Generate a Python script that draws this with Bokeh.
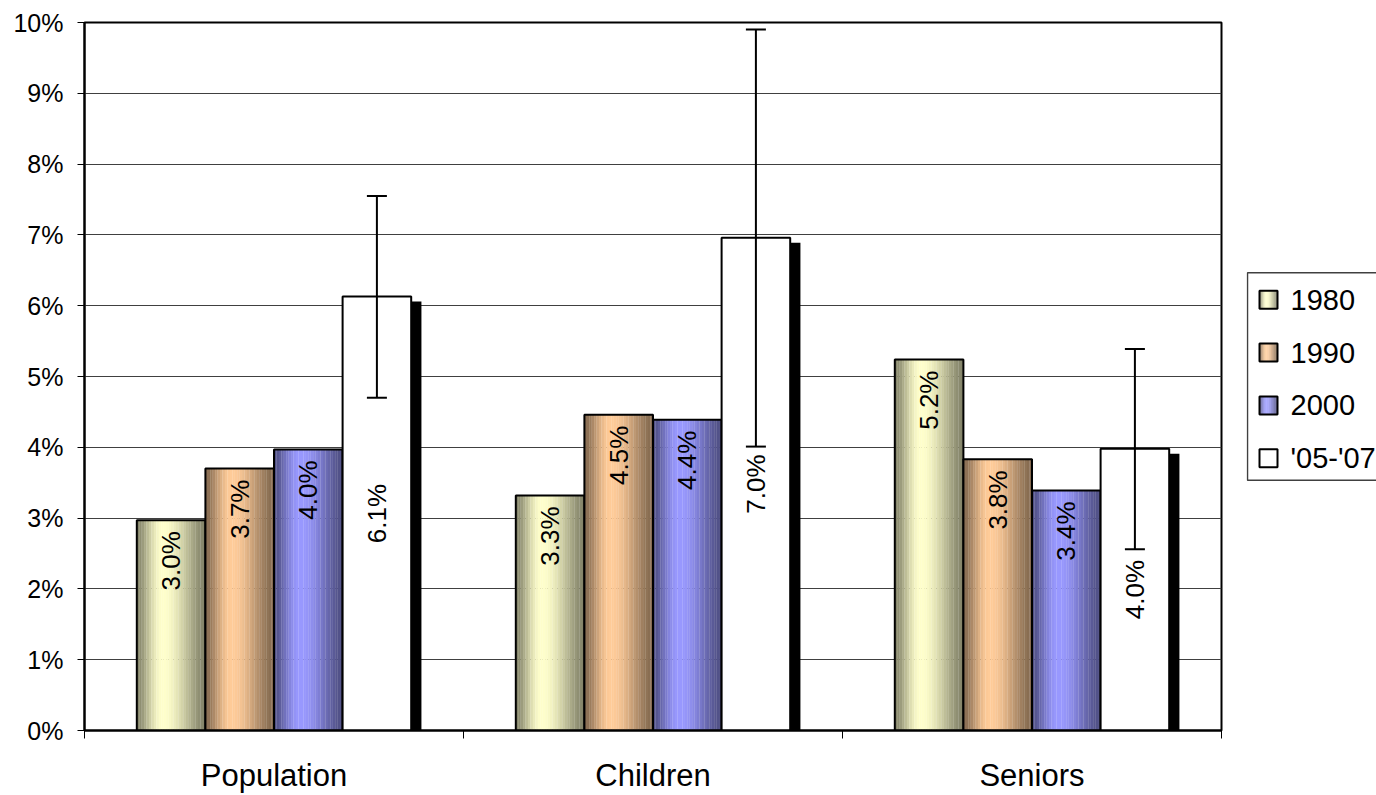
import math
from bokeh.plotting import figure
from bokeh.layouts import row
from bokeh.models import (ColumnDataSource, FixedTicker, NumeralTickFormatter, Whisker,
                          TeeHead, Range1d)
from bokeh.core.properties import value
from bokeh.embed import file_html
from bokeh.resources import INLINE

# ---------------- data ----------------
categories = ["Population", "Children", "Seniors"]
series = ["1980", "1990", "2000", "'05-'07"]
v1980 = [2.97, 3.32, 5.24]
v1990 = [3.70, 4.46, 3.83]
v2000 = [3.97, 4.39, 3.39]
v0507 = [6.13, 6.96, 3.98]
err_low = [4.70, 4.01, 2.56]
err_high = [7.55, 9.90, 5.39]
y_ticks = [i / 100 for i in range(11)]

# ---------------- style ----------------
FONT = "Liberation Sans"
base_colors = ["#FFFFCC", "#FFCC99", "#9999FF"]
bw = 0.181
offsets = [-1.5 * bw, -0.5 * bw, 0.5 * bw, 1.5 * bw]
NSTRIP = 28


def shade(hexc, f):
    r, g, b = int(hexc[1:3], 16), int(hexc[3:5], 16), int(hexc[5:7], 16)
    return "#%02x%02x%02x" % (int(r * f), int(g * f), int(b * f))


def profile(t, peak=0.38, lo=0.52):
    if t <= peak:
        s = math.sin(math.pi / 2 * t / peak)
    else:
        s = math.cos(math.pi / 2 * (t - peak) / (1 - peak))
    return lo + (1 - lo) * s ** 1.6


p = figure(width=1246, height=795, x_range=Range1d(0, 3), y_range=Range1d(0, 0.10),
           output_backend="svg", toolbar_location=None,
           min_border_left=84, min_border_top=22, min_border_right=25, min_border_bottom=63)
p.background_fill_color = "white"
p.border_fill_color = "white"
p.outline_line_color = "black"
p.outline_line_width = 2

# axes
p.yaxis.ticker = FixedTicker(ticks=y_ticks)
p.yaxis.formatter = NumeralTickFormatter(format="0%")
p.yaxis.major_label_text_font = FONT
p.yaxis.major_label_text_font_size = "25px"
p.yaxis.major_label_text_color = "black"
p.yaxis.major_tick_out = 7
p.yaxis.major_tick_in = 0
p.yaxis.minor_tick_line_color = None
p.yaxis.axis_line_width = 2
p.yaxis.major_label_standoff = 14

p.xaxis.ticker = FixedTicker(ticks=[i + 0.5 for i in range(len(categories))],
                             minor_ticks=[float(i) for i in range(len(categories) + 1)])
p.xaxis.major_label_overrides = {i + 0.5: c for i, c in enumerate(categories)}
p.xaxis.major_label_text_font = FONT
p.xaxis.major_label_text_font_size = "31px"
p.xaxis.major_label_text_color = "black"
p.xaxis.major_tick_line_color = None
p.xaxis.major_tick_out = 0
p.xaxis.major_tick_in = 0
p.xaxis.minor_tick_out = 8
p.xaxis.minor_tick_in = 0
p.xaxis.minor_tick_line_color = "black"
p.xaxis.axis_line_width = 2
p.xaxis.major_label_standoff = 19

p.xgrid.visible = False
p.ygrid.grid_line_color = "#404040"
p.ygrid.grid_line_width = 1

colored = [v1980, v1990, v2000]
ncat = len(categories)
centers = [[i + 0.5 + offsets[s] for i in range(ncat)] for s in range(4)]

# shadow behind the '05-'07 bars
sw = 0.027
p.vbar(x=[c + bw / 2 + sw / 2 for c in centers[3]], width=sw,
       top=[v / 100 - 0.0007 for v in v0507], bottom=0,
       fill_color="black", line_color=None)

# gradient bars (built as thin vertical strips)
for s, vals in enumerate(colored):
    xs, tops, cols = [], [], []
    for i in range(ncat):
        left = centers[s][i] - bw / 2
        for k in range(NSTRIP):
            t = (k + 0.5) / NSTRIP
            xs.append(left + t * bw)
            tops.append(vals[i] / 100)
            cols.append(shade(base_colors[s], profile(t)))
    src = ColumnDataSource(dict(x=xs, top=tops, color=cols))
    p.vbar(x="x", top="top", bottom=0, width=bw / NSTRIP * 1.08, fill_color="color",
           line_color=None, source=src)
    p.vbar(x=centers[s], top=[v / 100 for v in vals], bottom=0, width=bw,
           fill_color=None, line_color="black", line_width=2)

# white bars
p.vbar(x=centers[3], top=[v / 100 for v in v0507], bottom=0, width=bw,
       fill_color="white", line_color="black", line_width=2)

# error bars
esrc = ColumnDataSource(dict(x=centers[3], lo=[v / 100 for v in err_low],
                             hi=[v / 100 for v in err_high]))
wh = Whisker(source=esrc, base="x", lower="lo", upper="hi", dimension="height",
             line_color="black", line_width=2,
             lower_head=TeeHead(size=20, line_width=2, line_color="black"),
             upper_head=TeeHead(size=20, line_width=2, line_color="black"),
             level="overlay")
p.add_layout(wh)

# data labels
for s, vals in enumerate(colored):
    p.text(x=centers[s], y=[v / 100 for v in vals], text=["%.1f%%" % v for v in vals],
           angle=math.pi / 2, text_align="right", text_baseline="middle",
           text_font=value(FONT), text_font_size="26px", text_color="black", y_offset=11)
p.text(x=centers[3], y=[v / 200 for v in v0507], text=["%.1f%%" % v for v in v0507],
       angle=math.pi / 2, text_align="center", text_baseline="middle",
       text_font=value(FONT), text_font_size="26px", text_color="black")

# ---------------- legend (separate panel; its frame is aligned with the main frame,
# so its y range is expressed in page pixels from 22 to 732) ----------------
lg = figure(width=130, height=795, x_range=Range1d(0, 130), y_range=Range1d(732, 22),
            output_backend="svg", toolbar_location=None,
            x_axis_location=None, y_axis_location=None,
            min_border_left=0, min_border_right=0, min_border_top=0, min_border_bottom=0)
lg.grid.visible = False
lg.outline_line_color = None
lg.background_fill_color = "white"
lg.border_fill_color = "white"

lg.quad(left=1, right=140, top=273, bottom=481, fill_color="white",
        line_color="#404040", line_width=1.5)

sw_size = 18
sw_left = 13
item_y = [300 + 53 * j for j in range(len(series))]
for j, name in enumerate(series):
    cy = item_y[j]
    if j < 3:
        xs = [sw_left + (k + 0.5) * sw_size / NSTRIP for k in range(NSTRIP)]
        cols = [shade(base_colors[j], profile((k + 0.5) / NSTRIP)) for k in range(NSTRIP)]
        lg.rect(x=xs, y=cy, width=sw_size / NSTRIP * 1.1, height=sw_size,
                fill_color=cols, line_color=None)
        lg.rect(x=sw_left + sw_size / 2, y=cy, width=sw_size, height=sw_size,
                fill_color=None, line_color="black", line_width=2)
    else:
        lg.rect(x=sw_left + sw_size / 2, y=cy, width=sw_size, height=sw_size,
                fill_color="white", line_color="black", line_width=2)

lg.text(x=[44] * len(series), y=item_y, text=series, text_align="left",
        text_baseline="middle", text_font=value(FONT), text_font_size="29px",
        text_color="black")

layout = row(p, lg, spacing=0)
open("out.html", "w").write(file_html(layout, INLINE))
